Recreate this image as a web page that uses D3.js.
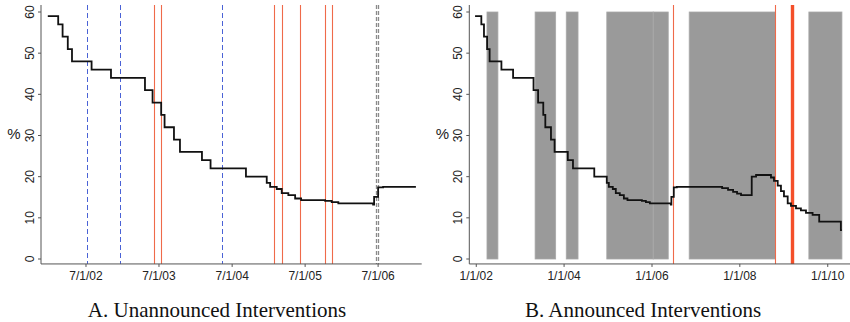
<!DOCTYPE html>
<html>
<head>
<meta charset="utf-8">
<script src="https://cdn.jsdelivr.net/npm/d3@7"></script>
<style>
  body { margin: 0; background: #fff; }
  svg { display: block; }
</style>
</head>
<body>
<div id="chart"></div>
<script>
// step series (date the level starts, level in %)
const rateSteps = [
  ["2001-12-22", 59], ["2002-02-12", 57], ["2002-03-06", 54], ["2002-04-01", 51],
  ["2002-04-22", 48], ["2002-07-29", 46], ["2002-11-03", 44], ["2003-04-22", 41],
  ["2003-05-30", 38], ["2003-07-12", 35], ["2003-07-29", 32], ["2003-09-14", 29],
  ["2003-10-14", 26], ["2004-02-01", 24], ["2004-03-15", 22], ["2004-09-08", 20],
  ["2004-12-21", 18.5], ["2005-01-07", 17.5], ["2005-02-09", 17], ["2005-03-06", 16],
  ["2005-04-08", 15.5], ["2005-05-12", 14.7], ["2005-06-11", 14.3], ["2005-10-09", 14.1],
  ["2005-11-11", 13.8], ["2005-12-14", 13.5], ["2006-06-06", 13.2], ["2006-06-11", 15.1],
  ["2006-07-01", 17.4], ["2006-07-26", 17.5], ["2007-08-07", 17.2], ["2007-09-25", 16.8],
  ["2007-11-06", 16.3], ["2007-12-09", 15.9], ["2008-01-11", 15.5], ["2008-04-09", 20.0],
  ["2008-05-15", 20.4], ["2008-09-16", 19.8], ["2008-10-11", 19.0], ["2008-11-11", 17.8],
  ["2008-12-08", 16.5], ["2009-01-02", 15.2], ["2009-02-02", 13.5], ["2009-03-01", 12.9],
  ["2009-04-12", 12.3], ["2009-05-23", 11.8], ["2009-07-04", 11.2], ["2009-08-28", 10.7],
  ["2009-10-22", 9.1], ["2010-04-20", 7.0]
];
const endA = "2007-01-06";
const endB = "2010-04-29";

// panel A interventions
const blueDashedA = ["2002-07-04", "2002-12-18", "2004-05-09"];
const redLinesA = ["2003-06-04", "2003-07-12", "2005-01-26", "2005-03-09", "2005-06-04", "2005-10-07", "2005-11-12"];
const grayDashedA = ["2006-06-20", "2006-06-28"];

// panel B announced periods and interventions
const bandsB = [
  ["2002-03-31", "2002-06-30"], ["2003-05-05", "2003-10-23"], ["2004-01-19", "2004-04-26"],
  ["2004-12-21", "2006-01-11"], ["2006-01-11", "2006-05-16"], ["2006-11-06", "2008-10-23"],
  ["2009-07-28", "2010-04-29"]
];
const redLinesB = ["2006-06-21", "2008-10-23"];
const redHeavyB = ["2009-03-04", "2009-03-13", "2009-03-22"];

const yTicks = [0, 10, 20, 30, 40, 50, 60];
const xTicksA = ["2002-07-01", "2003-07-01", "2004-07-01", "2005-07-01", "2006-07-01"];
const xTicksB = ["2002-01-01", "2004-01-01", "2006-01-01", "2008-01-01", "2010-01-01"];
const titles = ["A. Unannounced Interventions", "B. Announced Interventions"];

const parse = d3.utcParse("%Y-%m-%d");
const fmtA = d => (d.getUTCMonth() + 1) + "/" + d.getUTCDate() + "/" + d3.utcFormat("%y")(d);

const W = 850, H = 322;
const svg = d3.select("#chart").append("svg").attr("width", W).attr("height", H);

const y = d3.scaleLinear().domain([0, 60]).range([259, 12]);
const yTop = y(61.7), yBot = y(-1.2);

const redCol = "#ef6a4a";

function panel(opts) {
  const x = opts.x;
  const g = svg.append("g");
  const [x0, x1] = x.range();
  const px = d => Math.round(x(parse(d))) + 0.5;   // crisp vertical lines

  // bands
  g.selectAll("rect.band").data(opts.bands || []).join("rect")
    .attr("class", "band")
    .attr("x", d => x(parse(d[0])))
    .attr("width", d => x(parse(d[1])) - x(parse(d[0])))
    .attr("y", y(60)).attr("height", y(0) - y(60))
    .attr("fill", "#9a9a9a").attr("stroke", "#a9a9a9").attr("stroke-width", 0.8);

  const vline = (data, cls, stroke, width, dash) => {
    g.selectAll("line." + cls).data(data).join("line")
      .attr("class", cls)
      .attr("x1", px).attr("x2", px)
      .attr("y1", yTop).attr("y2", yBot)
      .attr("stroke", stroke).attr("stroke-width", width)
      .attr("stroke-dasharray", dash);
  };
  vline(opts.blue || [], "blue", "#4a62d6", 1, "5,3");
  vline(opts.red || [], "red", redCol, 1.1, null);
  vline(opts.redHeavy || [], "redh", "#f4502a", 1.4, null);
  vline(opts.gray || [], "gray", "#8a8a8a", 1.3, "4,2");

  // step line
  const end = parse(opts.end);
  const pts = rateSteps.map(d => [parse(d[0]), d[1]]).filter(d => d[0] < end);
  pts.push([end, pts[pts.length - 1][1]]);
  g.append("path")
    .attr("d", d3.line().x(d => x(d[0])).y(d => y(d[1])).curve(d3.curveStepAfter)(pts))
    .attr("fill", "none").attr("stroke", "#111").attr("stroke-width", 1.8);

  // frame (L shape)
  g.append("path")
    .attr("d", `M${x0},${yTop}V${yBot}H${x1}`)
    .attr("fill", "none").attr("stroke", "#555").attr("stroke-width", 1);

  // y axis ticks
  const yt = g.selectAll("g.yt").data(yTicks).join("g").attr("class", "yt");
  yt.append("line").attr("x1", x0 - 3).attr("x2", x0).attr("y1", d => y(d)).attr("y2", d => y(d))
    .attr("stroke", "#555");
  yt.append("text")
    .attr("transform", d => `translate(${x0 - 7},${y(d)}) rotate(-90)`)
    .attr("text-anchor", "middle")
    .attr("font-family", "Liberation Sans, Arial, sans-serif").attr("font-size", 12)
    .attr("fill", "#222")
    .text(d => d);

  // % label
  g.append("text").attr("x", x0 - 27).attr("y", 139)
    .attr("text-anchor", "middle")
    .attr("font-family", "Liberation Sans, Arial, sans-serif").attr("font-size", 15)
    .attr("fill", "#222").text("%");

  // x axis ticks
  const xt = g.selectAll("g.xt").data(opts.xTicks).join("g").attr("class", "xt");
  xt.append("line").attr("x1", d => x(parse(d))).attr("x2", d => x(parse(d)))
    .attr("y1", yBot).attr("y2", yBot + 3).attr("stroke", "#555");
  xt.append("text").attr("x", d => x(parse(d))).attr("y", yBot + 16)
    .attr("text-anchor", "middle")
    .attr("font-family", "Liberation Sans, Arial, sans-serif").attr("font-size", 12)
    .attr("fill", "#222")
    .text(d => fmtA(parse(d)));

  // title
  g.append("text").attr("x", opts.titleX).attr("y", 317)
    .attr("text-anchor", "middle")
    .attr("font-family", "Liberation Serif, Times New Roman, serif").attr("font-size", 21)
    .attr("fill", "#111")
    .text(opts.title);
}

const xA = d3.scaleUtc().domain([parse("2001-11-18"), parse("2007-02-04")]).range([41, 421.7]);
const xB = d3.scaleUtc().domain([parse("2001-11-04"), parse("2010-07-05")]).range([469.3, 850]);

panel({ x: xA, end: endA, blue: blueDashedA, red: redLinesA, gray: grayDashedA,
        xTicks: xTicksA, title: titles[0], titleX: 217 });
panel({ x: xB, end: endB, bands: bandsB, red: redLinesB, redHeavy: redHeavyB,
        xTicks: xTicksB, title: titles[1], titleX: 643 });
</script>
</body>
</html>
